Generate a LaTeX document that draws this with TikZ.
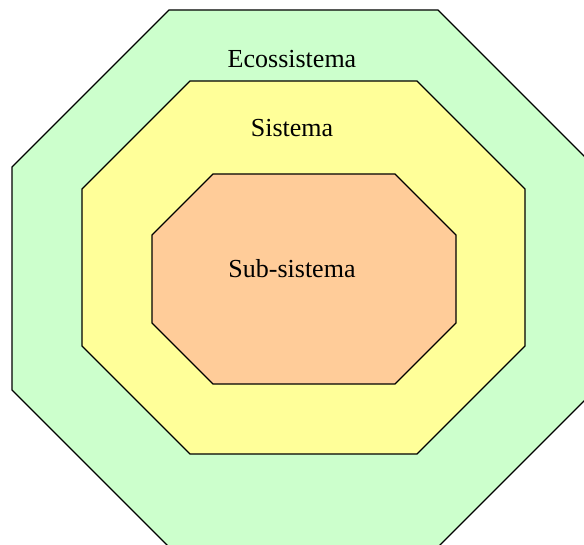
\documentclass[tikz,border=0pt]{standalone}
\usepackage{fontspec}
\setmainfont{Liberation Serif}
\definecolor{ecogreen}{HTML}{CCFFCC}
\definecolor{sysyellow}{HTML}{FFFF99}
\definecolor{suborange}{HTML}{FFCC99}
% chamfered box: left, top, right, bottom, cut, colour
\newcommand\Octagon[6]{%
    \filldraw[fill=#6] (#1+#5,#2) -- (#3-#5,#2) -- (#3,#2+#5) -- (#3,#4-#5)
        -- (#3-#5,#4) -- (#1+#5,#4) -- (#1,#4-#5) -- (#1,#2+#5) -- cycle;
}
\begin{document}
\begin{tikzpicture}[x=1pt,y=-1pt,line width=1.4pt,line join=miter,
    label/.style={font=\fontsize{26}{30}\selectfont,anchor=base}]
    \useasboundingbox (0,0) rectangle (584,545);
    \clip (0,0) rectangle (584,545);
    \Octagon{12}{10}{595}{547}{157}{ecogreen}
    \Octagon{82}{81}{525}{454}{108}{sysyellow}
    \Octagon{152}{174}{456}{384}{61}{suborange}
    \node[label] (eco) at (292,68) {Ecossistema};
    \node[label] (sis) at (292,137) {Sistema};
    \node[label] (sub) at (292,278) {Sub-sistema};
\end{tikzpicture}
\end{document}
